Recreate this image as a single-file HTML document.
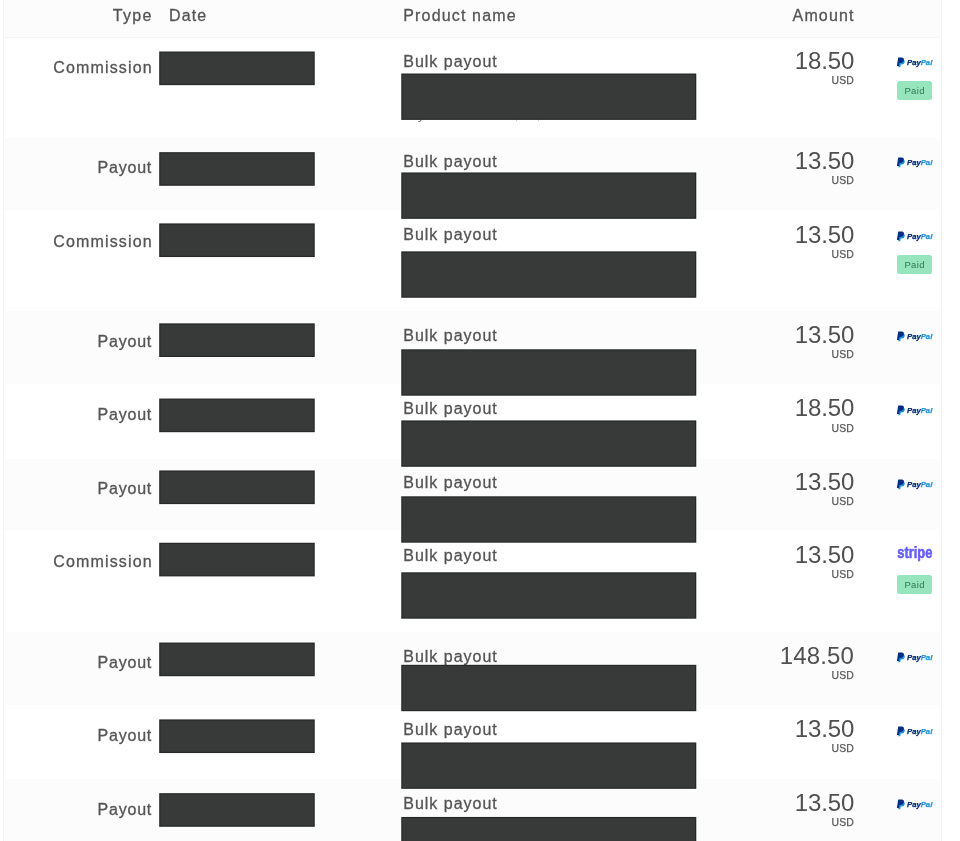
<!DOCTYPE html>
<html lang="en">
<head>
<meta charset="utf-8">
<title>Transactions</title>
<style>
*{box-sizing:border-box;margin:0;padding:0}
html,body{width:960px;height:841px;overflow:hidden;background:#fff}
body{font-family:"Liberation Sans",sans-serif;color:#555;position:relative}
.tbl{position:absolute;left:3px;top:0;width:939px;height:841px;border-left:1px solid #f2f3f3;border-right:1px solid #f2f3f3;overflow:hidden}
.hd{position:absolute;left:0;top:0;width:100%;height:38.4px;background:#fcfcfc;border-bottom:1px solid #f3f3f3}
.hd span{position:absolute;top:6.4px;font-size:16px;line-height:20px;letter-spacing:1.15px;white-space:nowrap;color:#555;-webkit-text-stroke:.3px #555}
.row{position:absolute;left:0;width:100%}
.shade{position:absolute;left:0;width:100%;background:#fcfcfc}
.ty{position:absolute;right:788.2px;top:20.45px;font-size:16px;line-height:20px;letter-spacing:1.15px;white-space:nowrap;text-align:right;-webkit-text-stroke:.3px #555}
.ty.po{letter-spacing:.8px;right:788.9px}
.pn{position:absolute;left:399.3px;top:13.7px;font-size:16px;line-height:20px;letter-spacing:.98px;white-space:nowrap;-webkit-text-stroke:.3px #555}
.sub{position:absolute;left:398px;top:68.6px;font-size:12.500px;line-height:16px;letter-spacing:.3px;white-space:nowrap;color:#777}
.am{position:absolute;right:86.85px;top:9.8px;font-size:24px;line-height:26px;letter-spacing:-.15px;white-space:nowrap;text-align:right;color:#505050}
.cu{position:absolute;right:86.9px;top:37.3px;font-size:10.4px;line-height:12px;letter-spacing:.22px;white-space:nowrap;text-align:right;color:#595959;-webkit-text-stroke:.25px #595959}
.redact{position:absolute;left:0;top:0;display:block}
.pp{position:absolute;left:892px;top:19.400px;display:block}
.st{position:absolute;left:892.5px;top:14px;display:block}
.paid{position:absolute;left:892.6px;top:43px;width:35.8px;height:19px;border-radius:2.5px;background:#97e5bc;color:#2f7752;font-size:9.5px;line-height:20.8px;text-align:center;letter-spacing:.4px;padding-left:.4px}
</style>
</head>
<body>
<div class="tbl">
<div class="hd"><span style="right:788.2px;letter-spacing:1.35px">Type</span><span style="left:165px">Date</span><span style="left:399.3px">Product name</span><span style="right:86.400px">Amount</span></div>
<div class="row" style="top:38px;height:100px"><div class="ty" style="top:20.0px">Commission</div><div class="pn" style="top:14.0px">Bulk payout</div><div class="sub">Payout for 18 sales, 12, and bonus</div><div class="am" style="top:10.0px">18.50</div><div class="cu" style="top:37.0px">USD</div><svg class="pp" style="top:19.3px" width="37" height="11" viewBox="0 0 37 11"><path d="M3.500 2.700h3.300c1.500 0 2.200.9 1.900 2.300-.3 1.700-1.500 2.500-3.100 2.500H4.700L4.200 10.300H2.300z" fill="#1592e0"/><path d="M2.200.6h3.500c1.700 0 2.500 1 2.200 2.500-.3 1.900-1.600 2.800-3.300 2.800H3.500L3 8.900H.9z" fill="#002c8a"/><text x="11" y="8" font-family="Liberation Sans, sans-serif" font-weight="700" font-style="italic" font-size="7.9" stroke-width=".25" textLength="25.3" lengthAdjust="spacingAndGlyphs"><tspan fill="#00287a" stroke="#00287a">Pay</tspan><tspan fill="#1a96dc" stroke="#1a96dc">Pal</tspan></text></svg><div class="paid" style="top:42.8px">Paid</div></div>
<div class="shade" style="top:137.5px;height:72.0px"></div><div class="row" style="top:138px;height:74px"><div class="ty po" style="top:20.0px">Payout</div><div class="pn" style="top:14.0px">Bulk payout</div><div class="am" style="top:10.0px">13.50</div><div class="cu" style="top:37.0px">USD</div><svg class="pp" style="top:19.35px" width="37" height="11" viewBox="0 0 37 11"><path d="M3.500 2.700h3.300c1.500 0 2.200.9 1.900 2.300-.3 1.700-1.500 2.500-3.100 2.500H4.700L4.200 10.300H2.300z" fill="#1592e0"/><path d="M2.200.6h3.500c1.700 0 2.500 1 2.200 2.500-.3 1.900-1.600 2.800-3.300 2.800H3.500L3 8.900H.9z" fill="#002c8a"/><text x="11" y="8" font-family="Liberation Sans, sans-serif" font-weight="700" font-style="italic" font-size="7.9" stroke-width=".25" textLength="25.3" lengthAdjust="spacingAndGlyphs"><tspan fill="#00287a" stroke="#00287a">Pay</tspan><tspan fill="#1a96dc" stroke="#1a96dc">Pal</tspan></text></svg></div>
<div class="row" style="top:212px;height:100px"><div class="ty" style="top:20.0px">Commission</div><div class="pn" style="top:13.0px">Bulk payout</div><div class="am" style="top:10.0px">13.50</div><div class="cu" style="top:37.0px">USD</div><svg class="pp" style="top:19.1px" width="37" height="11" viewBox="0 0 37 11"><path d="M3.500 2.700h3.300c1.500 0 2.200.9 1.900 2.300-.3 1.700-1.500 2.500-3.100 2.500H4.700L4.200 10.300H2.300z" fill="#1592e0"/><path d="M2.200.6h3.500c1.700 0 2.500 1 2.200 2.500-.3 1.900-1.600 2.800-3.300 2.800H3.500L3 8.900H.9z" fill="#002c8a"/><text x="11" y="8" font-family="Liberation Sans, sans-serif" font-weight="700" font-style="italic" font-size="7.9" stroke-width=".25" textLength="25.3" lengthAdjust="spacingAndGlyphs"><tspan fill="#00287a" stroke="#00287a">Pay</tspan><tspan fill="#1a96dc" stroke="#1a96dc">Pal</tspan></text></svg><div class="paid" style="top:42.6px">Paid</div></div>
<div class="shade" style="top:311.2px;height:72.55px"></div><div class="row" style="top:312px;height:74px"><div class="ty po" style="top:20.0px">Payout</div><div class="pn" style="top:14.0px">Bulk payout</div><div class="am" style="top:10.0px">13.50</div><div class="cu" style="top:37.0px">USD</div><svg class="pp" style="top:19.2px" width="37" height="11" viewBox="0 0 37 11"><path d="M3.500 2.700h3.300c1.500 0 2.200.9 1.900 2.300-.3 1.700-1.500 2.500-3.100 2.500H4.700L4.200 10.300H2.300z" fill="#1592e0"/><path d="M2.200.6h3.500c1.700 0 2.500 1 2.200 2.500-.3 1.900-1.600 2.800-3.300 2.800H3.500L3 8.900H.9z" fill="#002c8a"/><text x="11" y="8" font-family="Liberation Sans, sans-serif" font-weight="700" font-style="italic" font-size="7.9" stroke-width=".25" textLength="25.3" lengthAdjust="spacingAndGlyphs"><tspan fill="#00287a" stroke="#00287a">Pay</tspan><tspan fill="#1a96dc" stroke="#1a96dc">Pal</tspan></text></svg></div>
<div class="row" style="top:386px;height:73px"><div class="ty po" style="top:19.0px">Payout</div><div class="pn" style="top:13.0px">Bulk payout</div><div class="am" style="top:9.0px">18.50</div><div class="cu" style="top:37.0px">USD</div><svg class="pp" style="top:18.9px" width="37" height="11" viewBox="0 0 37 11"><path d="M3.500 2.700h3.300c1.500 0 2.200.9 1.900 2.300-.3 1.700-1.500 2.500-3.100 2.500H4.700L4.200 10.300H2.300z" fill="#1592e0"/><path d="M2.200.6h3.500c1.700 0 2.500 1 2.200 2.500-.3 1.900-1.600 2.800-3.300 2.800H3.500L3 8.900H.9z" fill="#002c8a"/><text x="11" y="8" font-family="Liberation Sans, sans-serif" font-weight="700" font-style="italic" font-size="7.9" stroke-width=".25" textLength="25.3" lengthAdjust="spacingAndGlyphs"><tspan fill="#00287a" stroke="#00287a">Pay</tspan><tspan fill="#1a96dc" stroke="#1a96dc">Pal</tspan></text></svg></div>
<div class="shade" style="top:458.75px;height:71.45px"></div><div class="row" style="top:459px;height:73px"><div class="ty po" style="top:20.0px">Payout</div><div class="pn" style="top:14.0px">Bulk payout</div><div class="am" style="top:10.0px">13.50</div><div class="cu" style="top:37.0px">USD</div><svg class="pp" style="top:19.5px" width="37" height="11" viewBox="0 0 37 11"><path d="M3.500 2.700h3.300c1.500 0 2.200.9 1.900 2.300-.3 1.700-1.500 2.500-3.100 2.500H4.700L4.200 10.300H2.300z" fill="#1592e0"/><path d="M2.200.6h3.500c1.700 0 2.500 1 2.200 2.500-.3 1.900-1.600 2.800-3.300 2.800H3.500L3 8.900H.9z" fill="#002c8a"/><text x="11" y="8" font-family="Liberation Sans, sans-serif" font-weight="700" font-style="italic" font-size="7.9" stroke-width=".25" textLength="25.3" lengthAdjust="spacingAndGlyphs"><tspan fill="#00287a" stroke="#00287a">Pay</tspan><tspan fill="#1a96dc" stroke="#1a96dc">Pal</tspan></text></svg></div>
<div class="row" style="top:532px;height:101px"><div class="ty" style="top:20.0px">Commission</div><div class="pn" style="top:14.0px">Bulk payout</div><div class="am" style="top:10.0px">13.50</div><div class="cu" style="top:37.0px">USD</div><svg class="st" style="top:14.45px" width="37" height="16" viewBox="0 0 37 16"><text x="0.3" y="12.1" font-family="Liberation Sans, sans-serif" font-weight="700" font-size="16" fill="#635bff" stroke="#635bff" stroke-width=".55" stroke-linejoin="round" textLength="35.1" lengthAdjust="spacingAndGlyphs">stripe</text></svg><div class="paid" style="top:43.35px">Paid</div></div>
<div class="shade" style="top:632.0px;height:72.75px"></div><div class="row" style="top:633px;height:73px"><div class="ty po" style="top:20.0px">Payout</div><div class="pn" style="top:14.0px">Bulk payout</div><div class="am" style="letter-spacing:.15px;right:87px;top:10.0px">148.50</div><div class="cu" style="top:37.0px">USD</div><svg class="pp" style="top:19.2px" width="37" height="11" viewBox="0 0 37 11"><path d="M3.500 2.700h3.300c1.500 0 2.200.9 1.900 2.300-.3 1.700-1.500 2.500-3.100 2.500H4.700L4.200 10.300H2.300z" fill="#1592e0"/><path d="M2.200.6h3.500c1.700 0 2.500 1 2.200 2.500-.3 1.900-1.600 2.800-3.300 2.800H3.500L3 8.900H.9z" fill="#002c8a"/><text x="11" y="8" font-family="Liberation Sans, sans-serif" font-weight="700" font-style="italic" font-size="7.9" stroke-width=".25" textLength="25.3" lengthAdjust="spacingAndGlyphs"><tspan fill="#00287a" stroke="#00287a">Pay</tspan><tspan fill="#1a96dc" stroke="#1a96dc">Pal</tspan></text></svg></div>
<div class="row" style="top:706px;height:74px"><div class="ty po" style="top:20.0px">Payout</div><div class="pn" style="top:14.0px">Bulk payout</div><div class="am" style="top:10.0px">13.50</div><div class="cu" style="top:37.0px">USD</div><svg class="pp" style="top:19.6px" width="37" height="11" viewBox="0 0 37 11"><path d="M3.500 2.700h3.300c1.500 0 2.200.9 1.900 2.300-.3 1.700-1.500 2.500-3.100 2.500H4.700L4.200 10.300H2.300z" fill="#1592e0"/><path d="M2.200.6h3.500c1.700 0 2.500 1 2.200 2.500-.3 1.900-1.600 2.800-3.300 2.800H3.500L3 8.900H.9z" fill="#002c8a"/><text x="11" y="8" font-family="Liberation Sans, sans-serif" font-weight="700" font-style="italic" font-size="7.9" stroke-width=".25" textLength="25.3" lengthAdjust="spacingAndGlyphs"><tspan fill="#00287a" stroke="#00287a">Pay</tspan><tspan fill="#1a96dc" stroke="#1a96dc">Pal</tspan></text></svg></div>
<div class="shade" style="top:779.25px;height:72.25px"></div><div class="row" style="top:780px;height:73px"><div class="ty po" style="top:20.0px">Payout</div><div class="pn" style="top:14.0px">Bulk payout</div><div class="am" style="top:10.0px">13.50</div><div class="cu" style="top:37.0px">USD</div><svg class="pp" style="top:19.2px" width="37" height="11" viewBox="0 0 37 11"><path d="M3.500 2.700h3.300c1.500 0 2.200.9 1.900 2.300-.3 1.700-1.500 2.500-3.100 2.500H4.700L4.200 10.300H2.300z" fill="#1592e0"/><path d="M2.200.6h3.500c1.700 0 2.500 1 2.200 2.500-.3 1.900-1.600 2.800-3.300 2.800H3.500L3 8.900H.9z" fill="#002c8a"/><text x="11" y="8" font-family="Liberation Sans, sans-serif" font-weight="700" font-style="italic" font-size="7.9" stroke-width=".25" textLength="25.3" lengthAdjust="spacingAndGlyphs"><tspan fill="#00287a" stroke="#00287a">Pay</tspan><tspan fill="#1a96dc" stroke="#1a96dc">Pal</tspan></text></svg></div>
</div>
<svg class="redact" width="960" height="841" viewBox="0 0 960 841">
<rect x="159.2" y="51.5" width="155.55" height="33.65" fill="#272828"/><rect x="160.4" y="52.7" width="153.15" height="31.25" fill="#383a39"/><rect x="401.25" y="73.5" width="295.03" height="46.4" fill="#272828"/><rect x="402.45" y="74.7" width="292.63" height="44.0" fill="#383a39"/>
<rect x="159.2" y="152.15" width="155.55" height="33.65" fill="#272828"/><rect x="160.4" y="153.35" width="153.15" height="31.25" fill="#383a39"/><rect x="401.25" y="172.45" width="295.03" height="46.4" fill="#272828"/><rect x="402.45" y="173.65" width="292.63" height="44.0" fill="#383a39"/>
<rect x="159.2" y="223.4" width="155.55" height="33.65" fill="#272828"/><rect x="160.4" y="224.6" width="153.15" height="31.25" fill="#383a39"/><rect x="401.25" y="251.35" width="295.03" height="46.4" fill="#272828"/><rect x="402.45" y="252.55" width="292.63" height="44.0" fill="#383a39"/>
<rect x="159.2" y="323.35" width="155.55" height="33.65" fill="#272828"/><rect x="160.4" y="324.55" width="153.15" height="31.25" fill="#383a39"/><rect x="401.25" y="349.3" width="295.03" height="46.4" fill="#272828"/><rect x="402.45" y="350.5" width="292.63" height="44.0" fill="#383a39"/>
<rect x="159.2" y="398.55" width="155.55" height="33.65" fill="#272828"/><rect x="160.4" y="399.75" width="153.15" height="31.25" fill="#383a39"/><rect x="401.25" y="420.4" width="295.03" height="46.4" fill="#272828"/><rect x="402.45" y="421.6" width="292.63" height="44.0" fill="#383a39"/>
<rect x="159.2" y="470.45" width="155.55" height="33.65" fill="#272828"/><rect x="160.4" y="471.65" width="153.15" height="31.25" fill="#383a39"/><rect x="401.25" y="496.3" width="295.03" height="46.4" fill="#272828"/><rect x="402.45" y="497.5" width="292.63" height="44.0" fill="#383a39"/>
<rect x="159.2" y="542.75" width="155.55" height="33.65" fill="#272828"/><rect x="160.4" y="543.95" width="153.15" height="31.25" fill="#383a39"/><rect x="401.25" y="572.3" width="295.03" height="46.4" fill="#272828"/><rect x="402.45" y="573.5" width="292.63" height="44.0" fill="#383a39"/>
<rect x="159.2" y="642.55" width="155.55" height="33.65" fill="#272828"/><rect x="160.4" y="643.75" width="153.15" height="31.25" fill="#383a39"/><rect x="401.25" y="664.8" width="295.03" height="46.4" fill="#272828"/><rect x="402.45" y="666.0" width="292.63" height="44.0" fill="#383a39"/>
<rect x="159.2" y="719.4" width="155.55" height="33.65" fill="#272828"/><rect x="160.4" y="720.6" width="153.15" height="31.25" fill="#383a39"/><rect x="401.25" y="742.45" width="295.03" height="46.4" fill="#272828"/><rect x="402.45" y="743.65" width="292.63" height="44.0" fill="#383a39"/>
<rect x="159.2" y="793.15" width="155.55" height="33.65" fill="#272828"/><rect x="160.4" y="794.35" width="153.15" height="31.25" fill="#383a39"/><rect x="401.25" y="816.95" width="295.03" height="46.4" fill="#272828"/><rect x="402.45" y="818.15" width="292.63" height="44.0" fill="#383a39"/>
</svg>
</body>
</html>
